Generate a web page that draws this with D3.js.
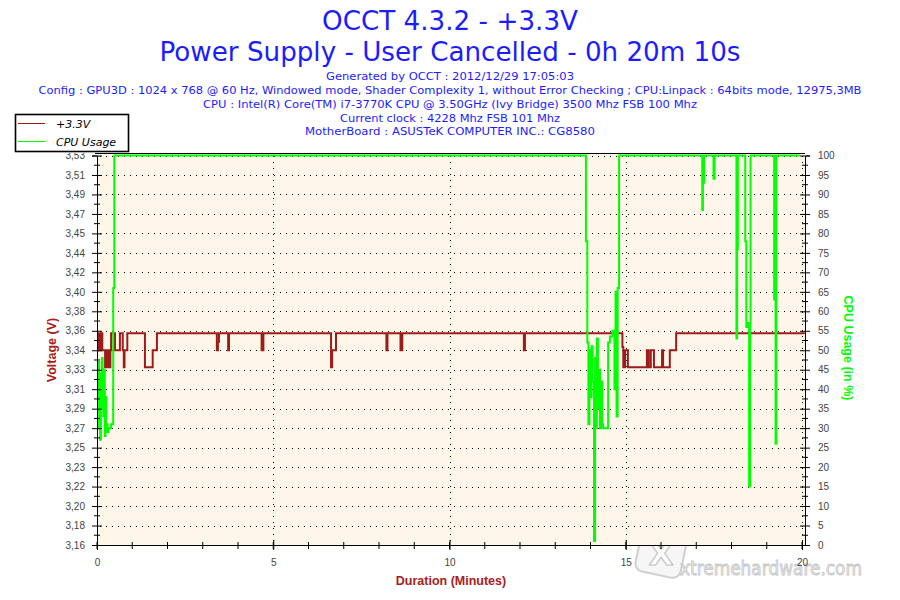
<!DOCTYPE html>
<html><head><meta charset="utf-8">
<script src="https://cdn.jsdelivr.net/npm/d3@7/dist/d3.min.js"></script>
<style>body{margin:0;background:#fff}svg{display:block}</style>
</head><body><svg id="chart" width="900" height="600"></svg>
<script>
// ---------- DATA ----------
const titleLines = ["OCCT 4.3.2 - +3.3V", "Power Supply - User Cancelled - 0h 20m 10s"];
const infoLines = [
  "Generated by OCCT : 2012/12/29 17:05:03",
  "Config : GPU3D : 1024 x 768 @ 60 Hz, Windowed mode, Shader Complexity 1, without Error Checking ; CPU:Linpack : 64bits mode, 12975,3MB",
  "CPU : Intel(R) Core(TM) i7-3770K CPU @ 3.50GHz (Ivy Bridge) 3500 Mhz FSB 100 Mhz",
  "Current clock : 4228 Mhz FSB 101 Mhz",
  "MotherBoard : ASUSTeK COMPUTER INC.: CG8580"
];
const seriesNames = ["+3.3V", "CPU Usage"];
const axisTitles = ["Voltage (V)", "CPU Usage (in %)", "Duration (Minutes)"];
const voltTicks = [3.16, 3.1784, 3.1968, 3.2152, 3.2336, 3.252, 3.2704, 3.2888, 3.3072, 3.3256, 3.344,
                   3.3624, 3.3808, 3.3992, 3.4176, 3.436, 3.4544, 3.4728, 3.4912, 3.5096, 3.528];
const cpuTicks = [0,5,10,15,20,25,30,35,40,45,50,55,60,65,70,75,80,85,90,95,100];
const timeTicks = [0,5,10,15,20];
const timeMinorTicks = [0,1,2,3,4,5,6,7,8,9,10,11,12,13,14,15,16,17,18,19,20];

// +3.3V readings (minutes, volts)
const voltTime  = [0, 0.02, 0.04, 0.06, 0.08, 0.10, 0.13, 0.15, 0.23, 0.25, 0.27, 0.29, 0.31, 0.33, 0.35, 0.38,
                   0.40, 0.51, 0.65, 0.73, 0.76, 0.78, 0.86, 1.36, 1.58, 1.70,
                   3.40, 3.43, 3.46, 3.72, 3.745, 4.67, 4.72, 6.64, 6.67, 6.78, 8.21, 8.24, 8.61, 8.66,
                   12.11, 12.14, 14.905, 14.93, 14.98, 15.06, 15.60, 15.65, 15.71, 15.80, 16.03, 16.06,
                   16.25, 16.43, 20.08];
const voltValue = [3.36, 3.344, 3.36, 3.344, 3.36, 3.344, 3.36, 3.344, 3.328, 3.344, 3.328, 3.344, 3.328, 3.344, 3.328, 3.344,
                   3.36, 3.344, 3.36, 3.344, 3.328, 3.344, 3.36, 3.328, 3.344, 3.36,
                   3.344, 3.352, 3.36, 3.344, 3.36, 3.344, 3.36, 3.328, 3.344, 3.36, 3.344, 3.36, 3.344, 3.36,
                   3.344, 3.36, 3.347, 3.328, 3.344, 3.328, 3.344, 3.328, 3.344, 3.328, 3.344, 3.328,
                   3.344, 3.36, 3.36];

// CPU usage (minutes, %)
const cpuTime  = [0, 0.02, 0.04, 0.06, 0.08, 0.09, 0.11, 0.13, 0.14, 0.16, 0.18, 0.20, 0.22, 0.24, 0.26, 0.28, 0.30, 0.33, 0.40,
                  0.46, 0.49, 13.87, 13.91, 13.94, 13.97, 14.00, 14.03, 14.06, 14.10, 14.13, 14.16, 14.18, 14.21,
                  14.24, 14.27, 14.30, 14.33, 14.36, 14.50, 14.55, 14.62, 14.68, 14.71, 14.74, 14.77, 14.81,
                  17.17, 17.19, 17.22, 17.49, 17.52, 18.14, 18.16, 18.18, 18.39, 18.42, 18.45, 18.50, 18.53, 18.54,
                  19.21, 19.25, 19.27, 19.94];
const cpuValue = [45, 38, 47, 30, 42, 27, 44, 35, 48, 40, 33, 45, 28, 38, 29, 31, 29, 30, 31,
                  66, 100, 78, 52, 31, 50, 38, 51, 42, 1, 48, 30, 53, 35,
                  45, 30, 42, 31, 30, 52, 53.5, 55, 40, 65, 33, 66, 100,
                  86, 93, 100, 94, 100, 53, 76, 100, 78, 56, 57, 15, 57, 100,
                  63, 26, 100, 100];

// ---------- LAYOUT ----------
const L = 97, R = 805, T = 153, B = 545;
const voltColor = "#9e1b1b", cpuColor = "#00ff00", blue = "#1c1cff", axisRed = "#a8201a";
const svg = d3.select("#chart");

const x = d3.scaleLinear().domain([0, 20]).range([L, 802]);
const yV = d3.scaleLinear().domain([voltTicks[0], voltTicks[voltTicks.length - 1]]).range([B, 155.5]);
const yC = d3.scaleLinear().domain([0, 100]).range([B, 155.5]);

// titles
svg.selectAll("text.title").data(titleLines).join("text")
  .attr("x", 450).attr("y", (d, i) => [30, 61][i])
  .attr("text-anchor", "middle").attr("font-family", "DejaVu Sans, Verdana, sans-serif")
  .attr("font-size", 26).attr("fill", blue)
  .attr("textLength", (d, i) => [256, 581][i]).attr("lengthAdjust", "spacingAndGlyphs")
  .text(d => d);
svg.selectAll("text.info").data(infoLines).join("text")
  .attr("x", 450).attr("y", (d, i) => [80, 94, 108, 122, 135][i])
  .attr("text-anchor", "middle").attr("font-family", "DejaVu Sans, Verdana, sans-serif")
  .attr("font-size", 11).attr("fill", blue)
  .attr("textLength", (d, i) => [248, 823, 494, 220, 290][i]).attr("lengthAdjust", "spacingAndGlyphs")
  .text(d => d);

// watermark (under the axes)
const wm = svg.append("g");
wm.append("rect").attr("x", 638).attr("y", 531).attr("width", 46).attr("height", 44).attr("rx", 8)
  .attr("transform", "rotate(12,661,553)").attr("fill", "#f6f6f6").attr("stroke", "#cfcfcf").attr("stroke-width", 2);
wm.append("text").attr("x", 661).attr("y", 565).attr("text-anchor", "middle")
  .attr("font-family", "DejaVu Sans, sans-serif").attr("font-weight", "bold").attr("font-size", 32)
  .attr("fill", "#ffffff").attr("stroke", "#c2c2c2").attr("stroke-width", 1.2).text("X");
wm.append("text").attr("x", 680).attr("y", 575)
  .attr("font-family", "DejaVu Sans, sans-serif").attr("font-size", 20)
  .attr("fill", "#f2f2f2").attr("stroke", "#c4c4c4").attr("stroke-width", 0.9)
  .attr("textLength", 182).attr("lengthAdjust", "spacingAndGlyphs").text("xtremehardware.com");

// plot background
svg.append("rect").attr("x", L).attr("y", T).attr("width", R - L).attr("height", B - T).attr("fill", "#fef7e9");

// grid
const grid = svg.append("g").attr("stroke", "#000").attr("stroke-width", 1).attr("stroke-dasharray", "1,5");
grid.selectAll("line.h").data(voltTicks.slice(1)).join("line")
  .attr("x1", L + 3).attr("x2", R).attr("y1", d => Math.round(yV(d)) + 0.5).attr("y2", d => Math.round(yV(d)) + 0.5);
grid.selectAll("line.v").data(timeTicks.slice(1)).join("line")
  .attr("y1", T + 3).attr("y2", B).attr("x1", d => Math.round(x(d)) + 0.5).attr("x2", d => Math.round(x(d)) + 0.5);

// series
svg.append("clipPath").attr("id", "clip").append("rect")
  .attr("x", L).attr("y", T).attr("width", R - L).attr("height", B - T);
svg.append("clipPath").attr("id", "clipLbl").append("rect")
  .attr("x", -100).attr("y", T).attr("width", 200).attr("height", 420);
const voltData = voltTime.map((t, i) => [t, voltValue[i]]);
const cpuData = cpuTime.map((t, i) => [t, cpuValue[i]]);
const plot = svg.append("g").attr("clip-path", "url(#clip)");
plot.append("path").datum(voltData)
  .attr("d", d3.line().x(d => x(d[0])).y(d => yV(d[1])).curve(d3.curveStepAfter))
  .attr("fill", "none").attr("stroke", voltColor).attr("stroke-width", 2);
plot.append("path").datum(cpuData)
  .attr("d", d3.line().x(d => x(d[0])).y(d => yC(d[1])).curve(d3.curveStepAfter))
  .attr("fill", "none").attr("stroke", cpuColor).attr("stroke-width", 2);

// frame top
svg.append("line").attr("x1", L - 2).attr("x2", R).attr("y1", T + 0.5).attr("y2", T + 0.5).attr("stroke", "#000");

const tickFont = "Liberation Sans, Arial, sans-serif";
const fmtV = v => d3.format(".2f")(v).replace(".", ",");

// left axis (labels cut at the frame top, as in the original)
const la = svg.append("g").attr("transform", `translate(${L},0)`).attr("clip-path", "url(#clipLbl)")
  .call(d3.axisLeft(yV).tickValues(voltTicks).tickFormat(fmtV).tickSize(5).tickPadding(7));
la.select(".domain").attr("stroke", "#000");
la.selectAll(".tick line").attr("x1", 5).attr("x2", -5);
la.selectAll(".tick text").attr("font-family", tickFont).attr("font-size", 10).attr("fill", "#444");
const vMinor = voltTicks.slice(1).map((v, i) => (v + voltTicks[i]) / 2);
la.selectAll("line.minor").data(vMinor).join("line")
  .attr("x1", -3).attr("x2", 3).attr("y1", d => yV(d)).attr("y2", d => yV(d)).attr("stroke", "#000");

// right axis
const ra = svg.append("g").attr("transform", `translate(${R},0)`)
  .call(d3.axisRight(yC).tickValues(cpuTicks).tickSize(5).tickPadding(8));
ra.select(".domain").attr("stroke", "#000");
ra.selectAll(".tick line").attr("x1", -5).attr("x2", 5);
ra.selectAll(".tick text").attr("font-family", tickFont).attr("font-size", 10).attr("fill", "#444");
const cMinor = cpuTicks.slice(1).map((v, i) => (v + cpuTicks[i]) / 2);
ra.selectAll("line.minor").data(cMinor).join("line")
  .attr("x1", -3).attr("x2", 3).attr("y1", d => yC(d)).attr("y2", d => yC(d)).attr("stroke", "#000");

// bottom axis
const ba = svg.append("g").attr("transform", `translate(0,${B})`)
  .call(d3.axisBottom(x).tickValues(timeTicks).tickFormat(d3.format("d")).tickSize(5).tickPadding(9));
ba.select(".domain").attr("stroke", "#000").attr("d", `M${L},0.5H${R}`);
ba.selectAll(".tick line").attr("y1", -5).attr("y2", 5);
ba.selectAll(".tick text").attr("font-family", tickFont).attr("font-size", 10).attr("fill", "#444");
ba.selectAll("line.minor").data(timeMinorTicks).join("line")
  .attr("x1", d => x(d)).attr("x2", d => x(d)).attr("y1", -3).attr("y2", 4).attr("stroke", "#000");

// axis titles
svg.append("text").attr("transform", "translate(56,350) rotate(-90)").attr("text-anchor", "middle")
  .attr("font-family", tickFont).attr("font-weight", "bold").attr("font-size", 12.5).attr("fill", axisRed).text(axisTitles[0]);
svg.append("text").attr("transform", "translate(844,348) rotate(90)").attr("text-anchor", "middle")
  .attr("font-family", tickFont).attr("font-weight", "bold").attr("font-size", 12.5).attr("fill", cpuColor).text(axisTitles[1]);
svg.append("text").attr("x", 451).attr("y", 585).attr("text-anchor", "middle")
  .attr("font-family", tickFont).attr("font-weight", "bold").attr("font-size", 12.5).attr("fill", axisRed).text(axisTitles[2]);

// legend
const lg = svg.append("g");
lg.append("rect").attr("x", 15.5).attr("y", 114.5).attr("width", 113).attr("height", 37)
  .attr("fill", "#fff").attr("stroke", "#000").attr("stroke-width", 1.6);
lg.selectAll("line.s").data(seriesNames).join("line")
  .attr("x1", 18).attr("x2", 45).attr("y1", (d, i) => 123.5 + i * 18).attr("y2", (d, i) => 123.5 + i * 18)
  .attr("stroke", (d, i) => [voltColor, cpuColor][i]).attr("stroke-width", 1);
lg.selectAll("text.s").data(seriesNames).join("text")
  .attr("x", 56).attr("y", (d, i) => 127.5 + i * 18)
  .attr("font-family", "DejaVu Sans, Verdana, sans-serif").attr("font-style", "italic").attr("font-size", 11)
  .attr("fill", "#000").text(d => d);
</script></body></html>
